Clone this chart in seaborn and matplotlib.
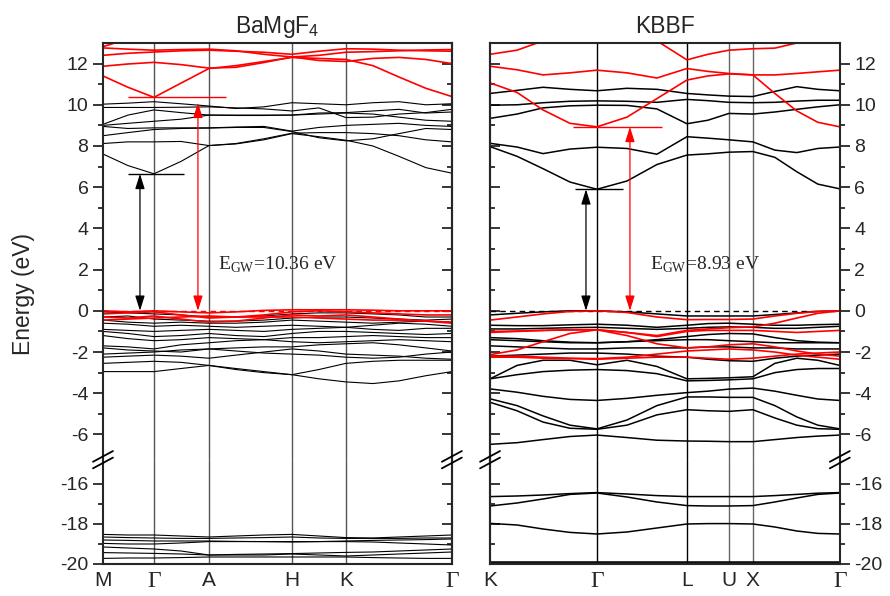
import numpy as np
import pandas as pd
import matplotlib
matplotlib.use("Agg")
import matplotlib.pyplot as plt
import seaborn as sns
from matplotlib.lines import Line2D
from matplotlib.ticker import MultipleLocator

# k-path sample points (arbitrary path units)
k_left = [0, 0.25, 0.51, 0.78, 1.06, 1.33, 1.61, 1.89, 2.16, 2.43, 2.70, 2.96, 3.23, 3.49]
k_right = [0, 0.27, 0.53, 0.80, 1.07, 1.37, 1.67, 1.97, 2.18, 2.39, 2.63, 2.85, 3.07, 3.28, 3.50]

sym_left = ["M", "Γ", "A", "H", "K", "Γ"]
sym_left_k = [0, 0.51, 1.06, 1.89, 2.43, 3.49]
sym_right = ["K", "Γ", "L", "U", "X", "Γ"]
sym_right_k = [0, 1.07, 1.97, 2.39, 2.63, 3.50]

# ---- BaMgF4 bands (eV) ----
left_black = [
    # conduction
    [7.61, 7.05, 6.65, 7.25, 8.02, 8.10, 8.30, 8.60, 8.45, 8.28, 8.00, 7.50, 6.95, 6.68],
    [8.12, 8.20, 8.20, 8.22, 8.02, 8.12, 8.35, 8.62, 8.65, 8.65, 8.60, 8.50, 8.30, 8.20],
    [8.50, 8.65, 8.80, 8.85, 8.87, 8.90, 8.90, 8.70, 8.40, 8.25, 8.35, 8.60, 8.85, 8.80],
    [8.95, 8.85, 8.88, 8.88, 8.88, 8.92, 8.95, 8.72, 8.90, 9.00, 9.05, 9.10, 9.00, 8.95],
    [9.00, 9.10, 9.20, 9.30, 9.50, 9.50, 9.50, 9.50, 9.55, 9.60, 9.55, 9.40, 9.25, 9.20],
    [9.05, 9.50, 9.75, 9.62, 9.50, 9.48, 9.48, 9.50, 9.60, 9.62, 9.70, 9.78, 9.60, 9.65],
    [9.87, 9.87, 9.87, 9.88, 9.90, 9.85, 9.80, 9.70, 9.85, 9.38, 9.40, 9.55, 9.62, 9.78],
    [10.03, 10.08, 10.15, 10.05, 9.94, 9.82, 9.90, 10.10, 10.05, 10.00, 10.10, 10.15, 10.00, 10.05],
    # valence
    [-2.95, -2.95, -2.95, -2.80, -2.65, -2.80, -2.95, -3.10, -3.30, -3.45, -3.53, -3.40, -3.15, -2.95],
    [-2.55, -2.50, -2.45, -2.50, -2.65, -2.85, -3.00, -3.10, -2.85, -2.55, -2.45, -2.40, -2.40, -2.40],
    [-2.25, -2.20, -2.15, -2.20, -2.30, -2.15, -2.00, -1.85, -1.95, -2.10, -2.15, -2.20, -2.30, -2.35],
    [-2.10, -2.05, -2.00, -1.90, -1.85, -1.95, -2.05, -2.10, -2.15, -2.25, -2.30, -2.25, -2.10, -2.00],
    [-1.80, -1.90, -1.95, -2.00, -1.85, -1.80, -1.75, -1.75, -1.65, -1.60, -1.55, -1.65, -1.80, -1.95],
    [-1.70, -1.75, -1.85, -1.65, -1.55, -1.45, -1.40, -1.50, -1.55, -1.50, -1.45, -1.40, -1.45, -1.50],
    [-1.20, -1.35, -1.45, -1.40, -1.30, -1.35, -1.40, -1.30, -1.30, -1.25, -1.20, -1.25, -1.30, -1.30],
    [-1.00, -1.10, -1.25, -1.20, -1.10, -1.20, -1.25, -1.10, -1.00, -1.00, -1.05, -1.10, -1.15, -1.10],
    [-0.90, -0.95, -1.00, -0.95, -0.90, -0.95, -1.00, -0.90, -0.85, -0.80, -0.90, -0.95, -0.85, -0.85],
    [-0.60, -0.65, -0.75, -0.70, -0.75, -0.80, -0.75, -0.70, -0.75, -0.80, -0.70, -0.60, -0.65, -0.75],
    [-0.45, -0.55, -0.60, -0.55, -0.60, -0.60, -0.55, -0.45, -0.50, -0.55, -0.60, -0.55, -0.50, -0.55],
    [-0.30, -0.25, -0.40, -0.45, -0.50, -0.50, -0.45, -0.35, -0.30, -0.30, -0.35, -0.40, -0.45, -0.40],
    [-0.05, -0.10, -0.15, -0.20, -0.30, -0.30, -0.25, -0.15, -0.10, -0.10, -0.15, -0.20, -0.30, -0.30],
    # semicore
    [-18.52, -18.55, -18.55, -18.60, -18.65, -18.60, -18.55, -18.52, -18.60, -18.68, -18.70, -18.65, -18.60, -18.55],
    [-18.65, -18.68, -18.70, -18.72, -18.72, -18.70, -18.68, -18.65, -18.70, -18.72, -18.72, -18.72, -18.70, -18.70],
    [-18.80, -18.82, -18.85, -18.85, -18.85, -18.87, -18.88, -18.90, -18.88, -18.85, -18.82, -18.80, -18.78, -18.75],
    [-18.97, -19.00, -19.00, -18.95, -18.88, -18.88, -18.88, -18.88, -18.88, -18.88, -18.90, -18.95, -19.00, -19.05],
    [-19.15, -19.20, -19.25, -19.35, -19.55, -19.52, -19.50, -19.48, -19.45, -19.42, -19.40, -19.35, -19.30, -19.25],
    [-19.43, -19.45, -19.47, -19.50, -19.55, -19.55, -19.55, -19.50, -19.55, -19.60, -19.55, -19.50, -19.45, -19.40],
    [-19.72, -19.70, -19.70, -19.68, -19.65, -19.65, -19.65, -19.65, -19.65, -19.65, -19.68, -19.70, -19.72, -19.72],
]
left_red = [
    [11.40, 10.85, 10.36, 11.05, 11.76, 11.90, 12.10, 12.30, 12.25, 12.20, 11.90, 11.35, 10.80, 10.40],
    [11.87, 11.98, 12.06, 11.95, 11.78, 11.82, 12.05, 12.32, 12.15, 12.10, 12.25, 12.30, 12.20, 12.00],
    [12.40, 12.50, 12.56, 12.62, 12.65, 12.60, 12.55, 12.45, 12.60, 12.72, 12.70, 12.65, 12.62, 12.60],
    [12.76, 12.70, 12.65, 12.68, 12.70, 12.62, 12.45, 12.32, 12.40, 12.55, 12.58, 12.62, 12.66, 12.68],
    [12.82, 13.20, 13.40, 13.50, 13.50, 13.50, 13.40, 13.30, 13.30, 13.30, 13.30, 13.30, 13.30, 13.30],
    [0.00, -0.05, 0.00, -0.05, -0.10, -0.05, 0.02, 0.05, 0.05, 0.05, 0.03, 0.00, 0.00, 0.00],
    [-0.15, -0.10, -0.05, -0.20, -0.35, -0.30, -0.20, -0.05, 0.00, -0.05, -0.10, -0.15, -0.20, -0.20],
    [-0.30, -0.35, -0.25, -0.40, -0.55, -0.50, -0.35, -0.20, -0.25, -0.20, -0.30, -0.40, -0.50, -0.55],
    [-0.45, -0.40, -0.35, -0.30, -0.25, -0.30, -0.30, -0.30, -0.35, -0.40, -0.45, -0.45, -0.50, -0.60],
]

# ---- KBBF bands (eV) ----
right_black = [
    [7.97, 7.50, 6.90, 6.25, 5.90, 6.30, 7.10, 7.56, 7.62, 7.70, 7.73, 7.45, 6.75, 6.15, 5.92],
    [8.13, 7.95, 7.63, 7.85, 7.94, 7.88, 7.60, 8.45, 8.38, 8.30, 8.20, 7.80, 7.68, 7.88, 7.95],
    [9.34, 9.55, 9.85, 9.95, 9.98, 9.97, 9.80, 9.08, 9.25, 9.58, 9.55, 9.65, 9.78, 9.90, 10.00],
    [9.98, 10.00, 10.10, 10.17, 10.19, 10.17, 10.12, 10.26, 10.20, 10.12, 10.10, 10.12, 10.18, 10.22, 10.22],
    [10.55, 10.70, 10.85, 10.75, 10.68, 10.80, 10.75, 10.55, 10.48, 10.42, 10.40, 10.65, 10.88, 10.75, 10.68],
    [-0.20, -0.12, -0.05, 0.00, 0.00, -0.05, -0.15, -0.25, -0.25, -0.25, -0.25, -0.18, -0.10, -0.03, 0.00],
    [-0.70, -0.72, -0.72, -0.68, -0.65, -0.70, -0.80, -0.70, -0.62, -0.60, -0.65, -0.70, -0.70, -0.67, -0.65],
    [-0.88, -0.88, -0.85, -0.82, -0.80, -0.85, -0.90, -0.85, -0.80, -0.78, -0.80, -0.85, -0.85, -0.80, -0.75],
    [-1.30, -1.35, -1.45, -1.52, -1.55, -1.50, -1.40, -1.25, -1.15, -1.10, -1.12, -1.30, -1.45, -1.52, -1.55],
    [-1.40, -1.45, -1.50, -1.55, -1.55, -1.50, -1.45, -1.40, -1.40, -1.45, -1.50, -1.55, -1.55, -1.55, -1.55],
    [-1.70, -1.75, -1.80, -1.85, -1.85, -1.80, -1.80, -1.80, -1.75, -1.75, -1.80, -1.80, -1.85, -1.85, -1.85],
    [-2.20, -2.15, -2.10, -2.05, -2.05, -2.10, -2.20, -2.25, -2.35, -2.42, -2.45, -2.30, -2.20, -2.15, -2.10],
    [-3.30, -2.65, -2.40, -2.40, -2.62, -2.40, -2.70, -3.30, -3.28, -3.25, -3.20, -2.55, -2.30, -2.40, -2.65],
    [-3.30, -3.10, -2.95, -2.88, -2.85, -2.90, -3.05, -3.40, -3.38, -3.35, -3.30, -3.00, -2.85, -2.80, -2.80],
    [-3.79, -3.95, -4.15, -4.30, -4.35, -4.25, -4.10, -3.97, -3.90, -3.80, -3.75, -3.90, -4.10, -4.28, -4.35],
    [-4.27, -4.60, -5.10, -5.55, -5.73, -5.30, -4.60, -4.18, -4.18, -4.20, -4.20, -4.60, -5.15, -5.55, -5.73],
    [-4.44, -4.85, -5.40, -5.70, -5.75, -5.55, -5.05, -4.80, -4.85, -4.88, -4.80, -5.20, -5.55, -5.72, -5.75],
    [-6.48, -6.40, -6.25, -6.10, -6.03, -6.15, -6.28, -6.32, -6.33, -6.35, -6.35, -6.25, -6.15, -6.08, -6.03],
    [-16.63, -16.60, -16.55, -16.48, -16.43, -16.50, -16.58, -16.63, -16.63, -16.63, -16.63, -16.58, -16.52, -16.46, -16.43],
    [-17.10, -16.95, -16.75, -16.52, -16.45, -16.65, -16.90, -17.08, -17.10, -17.10, -17.08, -16.90, -16.70, -16.52, -16.45],
    [-17.97, -18.05, -18.25, -18.42, -18.50, -18.40, -18.20, -18.00, -17.98, -17.98, -18.00, -18.15, -18.35, -18.47, -18.50],
    [-19.92, -19.92, -19.92, -19.92, -19.92, -19.92, -19.92, -19.92, -19.92, -19.92, -19.92, -19.92, -19.92, -19.92, -19.92],
    [-19.97, -19.97, -19.97, -19.97, -19.97, -19.97, -19.97, -19.97, -19.97, -19.97, -19.97, -19.97, -19.97, -19.97, -19.97],
]
right_red = [
    [11.06, 10.60, 9.75, 9.10, 8.93, 9.40, 10.30, 11.20, 11.40, 11.50, 11.45, 10.55, 9.70, 9.15, 8.93],
    [11.87, 11.70, 11.45, 11.55, 11.68, 11.55, 11.30, 11.76, 11.62, 11.52, 11.45, 11.45, 11.52, 11.60, 11.68],
    [12.45, 12.65, 13.10, 13.40, 13.50, 13.40, 13.10, 12.18, 12.45, 12.65, 12.72, 12.75, 13.00, 13.30, 13.50],
    [-0.45, -0.30, -0.15, -0.03, 0.00, -0.08, -0.30, -0.43, -0.42, -0.42, -0.40, -0.25, -0.12, -0.03, 0.00],
    [-1.00, -0.98, -0.95, -0.93, -0.92, -1.05, -1.20, -0.95, -0.88, -0.82, -0.78, -0.60, -0.35, -0.12, 0.00],
    [-1.05, -1.00, -0.95, -0.92, -0.92, -1.05, -1.25, -1.00, -0.95, -0.95, -0.95, -1.00, -1.05, -1.00, -0.95],
    [-2.13, -1.90, -1.50, -1.10, -0.92, -1.20, -1.60, -1.80, -1.75, -1.65, -1.60, -1.75, -1.95, -2.10, -2.20],
    [-2.20, -2.20, -2.25, -2.30, -2.32, -2.25, -2.10, -1.95, -1.90, -1.85, -1.90, -2.00, -2.15, -2.25, -2.35],
    [-2.25, -2.25, -2.30, -2.32, -2.35, -2.30, -2.25, -2.25, -2.30, -2.35, -2.30, -2.20, -2.10, -2.05, -2.00],
]

# gap markers: [k of arrow, gap top, k range of level line]
left_gap_black = [0.37, 6.65, 0.25, 0.81]
left_gap_red = [0.95, 10.36, 0.25, 1.23]
right_gap_black = [0.96, 5.90, 0.85, 1.33]
right_gap_red = [1.40, 8.93, 0.83, 1.72]
gw_labels = ["10.36", "8.93"]

sns.set_style("white")
plt.rcParams["font.family"] = ["Liberation Sans", "DejaVu Sans"]
plt.rcParams["mathtext.fontset"] = "custom"
plt.rcParams["mathtext.rm"] = "Liberation Serif"
plt.rcParams["mathtext.sf"] = "Liberation Sans"
plt.rcParams["axes.unicode_minus"] = False


def band_frame(k, black, red):
    rows = []
    for color, bands in (("black", black), ("red", red)):
        for i, b in enumerate(bands):
            for kk, e in zip(k, b):
                rows.append((f"{color}{i}", color, kk, e))
    return pd.DataFrame(rows, columns=["band", "color", "k", "E"])


fig = plt.figure(figsize=(8.9, 5.96), dpi=100)
y_bot, y_brk, y_top = 0.0537, 0.2282, 0.9279


def make_panel(x0, w, k, black, red, sym, sym_k, vcolors, labels_left, title, gap_b, gap_r, gw, zero_color, black_lw):
    ax_t = fig.add_axes([x0, y_brk, w, y_top - y_brk])
    ax_b = fig.add_axes([x0, y_bot, w, y_brk - y_bot])
    df = band_frame(k, black, red)
    for ax in (ax_t, ax_b):
        for color, sub in df.groupby("color"):
            sns.lineplot(data=sub, x="k", y="E", units="band", estimator=None,
                         color=color, lw=black_lw if color == "black" else 1.2,
                         sort=False, legend=False, ax=ax)
        for kk, vc in zip(sym_k[1:-1], vcolors):
            ax.axvline(kk, color=vc, lw=1.0, zorder=0)
        ax.set_xlim(k[0], k[-1])
        ax.set_xlabel("")
        ax.set_ylabel("")
        for s in ax.spines.values():
            s.set_linewidth(1.5)
    ax_t.set_ylim(-7.24, 13)
    ax_b.set_ylim(-20, -14.8)
    ax_t.spines["bottom"].set_visible(False)
    ax_b.spines["top"].set_visible(False)
    ax_t.set_xticks([])
    ax_b.set_xticks(sym_k, sym)
    ax_b.tick_params(axis="x", length=0, pad=5, labelsize=15)
    for t in ax_b.get_xticklabels():
        if t.get_text() == "Γ":
            t.set_fontfamily("Liberation Serif")
            t.set_fontsize(17)

    ax_t.set_yticks(np.arange(-6, 13, 2))
    ax_t.set_yticks(list(range(-5, 13, 2)), minor=True)
    ax_b.set_yticks([-20, -18, -16])
    ax_b.set_yticks([-19, -17], minor=True)
    for ax in (ax_t, ax_b):
        if labels_left:
            ax.yaxis.tick_left()
        else:
            ax.yaxis.tick_right()
        ax.tick_params(axis="y", which="major", direction="out", length=7, width=1.3, labelsize=14)
        ax.tick_params(axis="y", which="minor", direction="out", length=3.5, width=1.3)
        sec = ax.secondary_yaxis("right" if labels_left else "left")
        sec.set_yticks(ax.get_yticks())
        sec.set_yticks(ax.get_yticks(minor=True), minor=True)
        sec.tick_params(axis="y", which="major", direction="in", length=7, width=1.3,
                        labelleft=False, labelright=False)
        sec.tick_params(axis="y", which="minor", direction="in", length=3.5, width=1.3)
        for s in sec.spines.values():
            s.set_linewidth(1.5)

    # zero level
    ax_t.axhline(0, color=zero_color, lw=1.0, ls=(0, (4, 3)), zorder=1)

    # gap markers
    for (ka, top, k1, k2), c in ((gap_b, "black"), (gap_r, "red")):
        ax_t.hlines(top, k1, k2, color=c, lw=1.0)
        ax_t.annotate("", xy=(ka, top - (0.26 if c == "red" and labels_left else 0)), xytext=(ka, 0),
                      arrowprops=dict(arrowstyle="<|-|>,head_length=0.7,head_width=0.22", color=c, lw=0.9,
                                      mutation_scale=13, shrinkA=0, shrinkB=0))
    ax_t.text(gap_r[0] + 0.2, 2.0,
              r"$\mathrm{E}_{\mathrm{GW}}$=" + gw + " eV", fontsize=14,
              fontfamily="Liberation Serif", va="baseline")
    ax_t.set_title(title, fontsize=16.5, pad=7)

    # axis break marks
    for xf in (x0, x0 + w):
        for dy in (-0.005, 0.006):
            fig.add_artist(Line2D([xf - 0.0112, xf + 0.0112],
                                  [y_brk + dy - 0.009, y_brk + dy + 0.009],
                                  color="black", lw=1.3))
    return ax_t, ax_b


make_panel(0.1157, 0.392, k_left, left_black, left_red, sym_left, sym_left_k,
           ["#555555"] * 4, True, r"BaMgF$_\mathsf{4}$",
           left_gap_black, left_gap_red, gw_labels[0], "red", 0.8)
make_panel(0.5506, 0.393, k_right, right_black, right_red, sym_right, sym_right_k,
           ["black", "black", "#666666", "#666666"], False, "KBBF",
           right_gap_black, right_gap_red, gw_labels[1], "black", 1.1)

fig.text(0.026, 0.507, "Energy (eV)", rotation=90, va="center", ha="center", fontsize=16.5)

fig.savefig("out.png", dpi=100)
